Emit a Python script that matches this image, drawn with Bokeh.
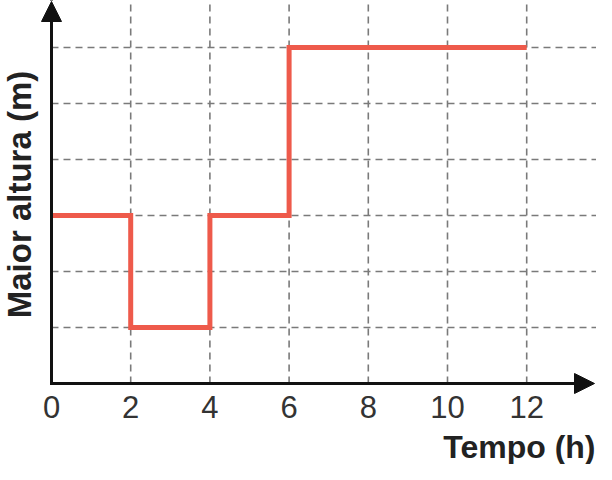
import math
from bokeh.plotting import figure
from bokeh.models import Arrow, NormalHead, Range1d
from bokeh.core.properties import value
from bokeh.embed import file_html
from bokeh.resources import INLINE

# ---- data ----
times = [0, 2, 4, 6, 12]
heights = [3, 1, 3, 6, 6]
x_ticks = [0, 2, 4, 6, 8, 10, 12]
x_tick_labels = ["0", "2", "4", "6", "8", "10", "12"]
y_grid = [1, 2, 3, 4, 5, 6]
x_label = "Tempo (h)"
y_label = "Maior altura (m)"

# ---- layout constants (pixels) ----
W, H = 596, 464
ox, oy = 51, 383          # origin in figure pixels
ux, uy = 39.6, 56.0        # pixels per data unit
x0, x1 = -ox / ux, (W - ox) / ux
y0, y1 = -(H - oy) / uy, oy / uy

p = figure(width=W, height=H, output_backend="svg", toolbar_location=None,
           x_range=Range1d(x0, x1), y_range=Range1d(y0, y1),
           min_border=0, min_border_left=0, min_border_right=0,
           min_border_top=0, min_border_bottom=0)
p.axis.visible = False
p.xgrid.visible = False
p.ygrid.visible = False
p.outline_line_color = None
p.background_fill_color = "white"
p.border_fill_color = "white"

grid_color = "#7a7a7a"
grid_dash = "7 5"

# vertical dashed grid (from x axis upward)
vx = [t for t in x_ticks if t != 0]
p.segment(x0=vx, y0=[0] * len(vx), x1=vx, y1=[y1] * len(vx),
          line_color=grid_color, line_width=1.6, line_dash=grid_dash)
# horizontal dashed grid (from y axis rightward)
p.segment(x0=[0] * len(y_grid), y0=y_grid, x1=[x1] * len(y_grid), y1=y_grid,
          line_color=grid_color, line_width=1.6, line_dash=grid_dash)

# step line
p.step(times, heights, mode="after", line_color="#ee5a4b", line_width=5,
       line_join="miter")

# axes with arrow heads
ax_color = "#111111"
p.add_layout(Arrow(end=NormalHead(size=20, fill_color=ax_color, line_color=ax_color),
                   x_start=0, y_start=0, x_end=(594 - ox) / ux, y_end=0,
                   line_color=ax_color, line_width=3))
p.add_layout(Arrow(end=NormalHead(size=20, fill_color=ax_color, line_color=ax_color),
                   x_start=0, y_start=0, x_end=0, y_end=(oy - 1.0) / uy,
                   line_color=ax_color, line_width=3, line_cap="square"))

# tick labels (vertical centre 23 px below the x axis)
p.text(x=x_ticks, y=[-23 / uy] * len(x_ticks), text=x_tick_labels,
       text_font=value("Liberation Sans"), text_font_size="31px",
       text_color="#333333", text_align="center", text_baseline="middle")

# axis titles
p.text(x=[(595 - ox) / ux], y=[-63 / uy], text=[x_label],
       text_font=value("Liberation Sans"), text_font_size="32px",
       text_font_style="bold", text_color="#222222",
       text_align="right", text_baseline="middle")
p.text(x=[(19 - ox) / ux], y=[(389 - 200) / uy], text=[y_label],
       angle=math.pi / 2,
       text_font=value("Liberation Sans"), text_font_size="33px",
       text_font_style="bold", text_color="#222222",
       text_align="center", text_baseline="middle")

open("out.html", "w").write(file_html(p, INLINE))
